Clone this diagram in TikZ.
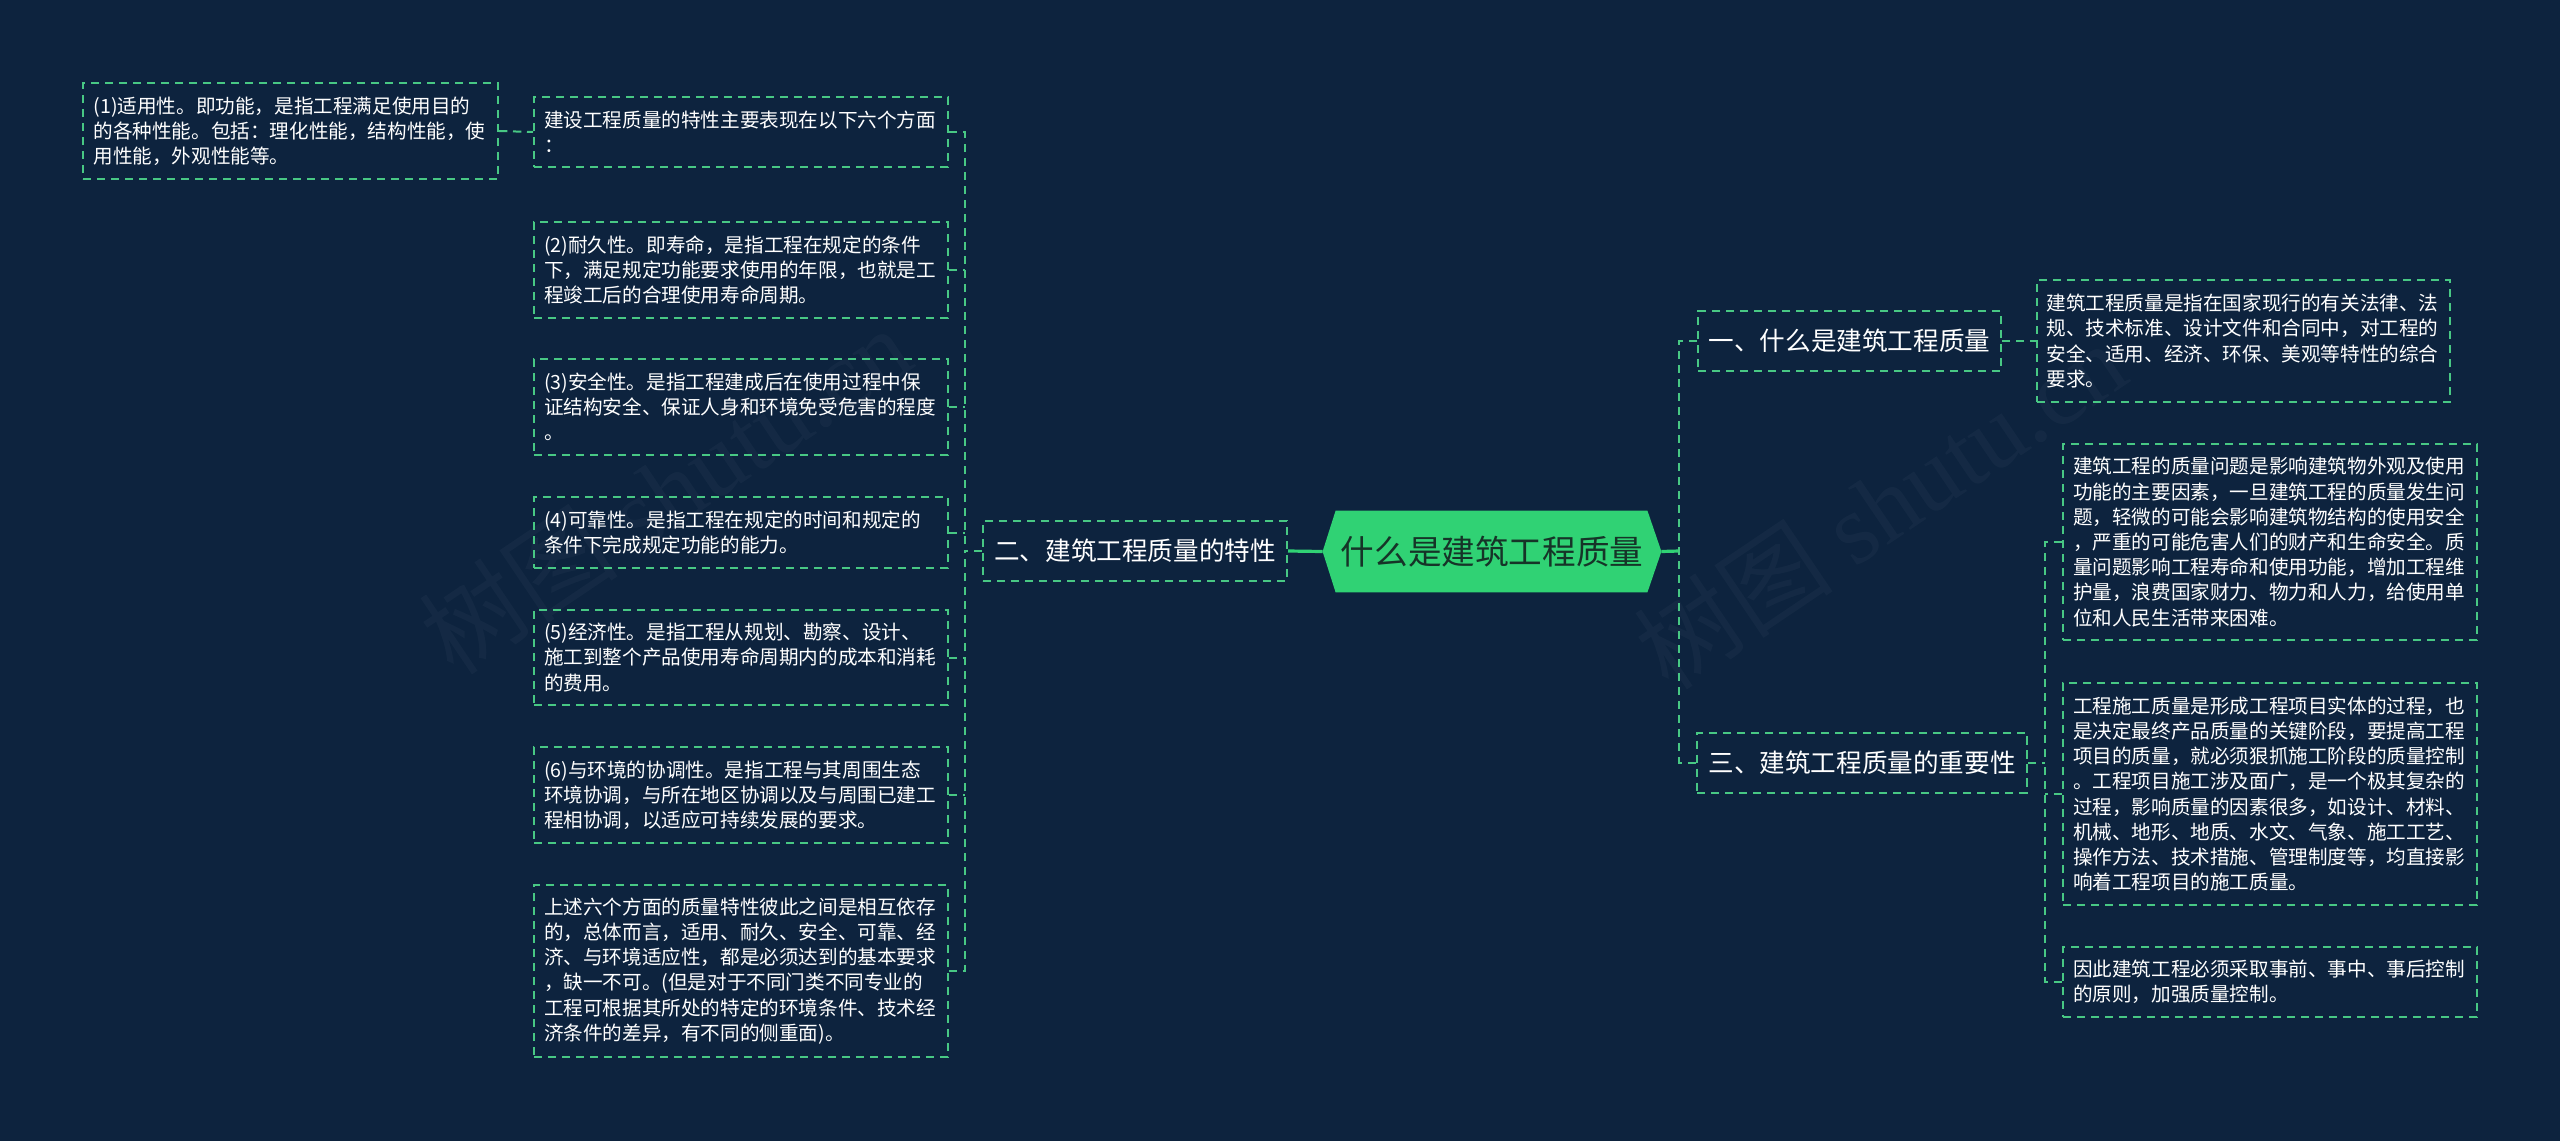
\documentclass[tikz,border=0pt]{standalone}
\usepackage{fontspec}
\setmainfont{Noto Sans CJK SC}
\newfontfamily\wmfont{Liberation Serif}
\definecolor{bgc}{RGB}{13,35,62}
\definecolor{lg}{RGB}{72,200,132}
\definecolor{hubg}{RGB}{48,210,116}
\definecolor{hubt}{RGB}{22,52,40}
\tikzset{
  dashln/.style={draw=lg, line width=1pt, dash pattern=on 4.2pt off 2.8pt},
  leaf/.style={dashln, text=white, align=left, inner sep=0pt,
    text width=197pt, minimum height=#1,
    font=\fontsize{9.8pt}{12.6pt}\selectfont},
  leafw/.style={minimum width=#1},
  branch/.style={dashln, text=white, inner sep=0pt, minimum height=30pt,
    font=\fontsize{12.8pt}{15pt}\selectfont},
  link/.style={dashln},
  solidlink/.style={draw=hubg, line width=1.6pt},
  wmark/.style={text=white, opacity=0.03, rotate=34,
    font=\fontsize{50pt}{55pt}\selectfont}
}
\begin{document}
\begin{tikzpicture}[x=0.5pt,y=-0.5pt]
\fill[bgc] (0,0) rectangle (2560,1141);
\useasboundingbox (0,0) rectangle (2560,1141);

% watermarks
\node[wmark] (w1) at (665,490) {树图 {\wmfont shutu.cn}};
\node[wmark] (w2) at (1880,505) {树图 {\wmfont shutu.cn}};

% left column
\node[leaf=48pt, leafw=207.5pt] (c1) at (290.5,131) {(1)适用性。即功能，是指工程满足使用目的\\的各种性能。包括：理化性能，结构性能，使\\用性能，外观性能等。};
\node[leaf=35pt, leafw=207pt] (b0) at (741,132) {建设工程质量的特性主要表现在以下六个方面\\：};
\node[leaf=48pt, leafw=207pt] (b2) at (741,270) {(2)耐久性。即寿命，是指工程在规定的条件\\下，满足规定功能要求使用的年限，也就是工\\程竣工后的合理使用寿命周期。};
\node[leaf=48pt, leafw=207pt] (b3) at (741,407) {(3)安全性。是指工程建成后在使用过程中保\\证结构安全、保证人身和环境免受危害的程度\\。};
\node[leaf=35.5pt, leafw=207pt] (b4) at (741,532.5) {(4)可靠性。是指工程在规定的时间和规定的\\条件下完成规定功能的能力。};
\node[leaf=47.5pt, leafw=207pt] (b5) at (741,657.5) {(5)经济性。是指工程从规划、勘察、设计、\\施工到整个产品使用寿命周期内的成本和消耗\\的费用。};
\node[leaf=48pt, leafw=207pt] (b6) at (741,795) {(6)与环境的协调性。是指工程与其周围生态\\环境协调，与所在地区协调以及与周围已建工\\程相协调，以适应可持续发展的要求。};
\node[leaf=86pt, leafw=207pt] (b7) at (741,971) {上述六个方面的质量特性彼此之间是相互依存\\的，总体而言，适用、耐久、安全、可靠、经\\济、与环境适应性，都是必须达到的基本要求\\，缺一不可。(但是对于不同门类不同专业的\\工程可根据其所处的特定的环境条件、技术经\\济条件的差异，有不同的侧重面)。};

% second level
\node[branch, minimum width=152pt] (er) at (1135,551) {二、建筑工程质量的特性};
\node[branch, minimum width=151.5pt] (yi) at (1849.5,341) {一、什么是建筑工程质量};
\node[branch, minimum width=165pt] (san) at (1862,762.5) {三、建筑工程质量的重要性};

% hub
\node[inner sep=0pt, minimum width=169pt, minimum height=40.5pt] (hub) at (1492,551.5) {};
\fill[hubg] (hub.west) -- ([xshift=6.5pt]hub.north west) -- ([xshift=-7pt]hub.north east) -- (hub.east) -- ([xshift=-7pt]hub.south east) -- ([xshift=6.5pt]hub.south west) -- cycle;
\node[text=hubt, font=\fontsize{16.8pt}{20pt}\selectfont] (hubtext) at (hub.center) {什么是建筑工程质量};

% right leaves
\node[leaf=61pt, leafw=206.5pt] (r1) at (2243.5,341) {建筑工程质量是指在国家现行的有关法律、法\\规、技术标准、设计文件和合同中，对工程的\\安全、适用、经济、环保、美观等特性的综合\\要求。};
\node[leaf=98pt, leafw=207pt] (ra) at (2270,542) {建筑工程的质量问题是影响建筑物外观及使用\\功能的主要因素，一旦建筑工程的质量发生问\\题，轻微的可能会影响建筑物结构的使用安全\\，严重的可能危害人们的财产和生命安全。质\\量问题影响工程寿命和使用功能，增加工程维\\护量，浪费国家财力、物力和人力，给使用单\\位和人民生活带来困难。};
\node[leaf=111pt, leafw=207pt] (rb) at (2270,794) {工程施工质量是形成工程项目实体的过程，也\\是决定最终产品质量的关键阶段，要提高工程\\项目的质量，就必须狠抓施工阶段的质量控制\\。工程项目施工涉及面广，是一个极其复杂的\\过程，影响质量的因素很多，如设计、材料、\\机械、地形、地质、水文、气象、施工工艺、\\操作方法、技术措施、管理制度等，均直接影\\响着工程项目的施工质量。};
\node[leaf=35pt, leafw=207pt] (rc) at (2270,982) {因此建筑工程必须采取事前、事中、事后控制\\的原则，加强质量控制。};

% spine coordinates
\coordinate (sL) at (965,551);
\coordinate (sR) at (1679,551);
\coordinate (sR3) at (2045,762.5);

% connectors
\draw[solidlink] (er.east) -- (hub.west);
\draw[solidlink] (hub.east) -- (sR);
\draw[link] (yi.west) -| (sR) |- (san.west);
\draw[link] (yi.east) -- (r1.west);
\draw[link] (c1.east) -- (b0.west);
\draw[link] (b0.east) -| (sL);
\draw[link] (b7.east) -| (sL);
\foreach \n in {b2,b3,b4,b5,b6} { \draw[link] (\n.east) -- (\n.east -| sL); }
\draw[link] (er.west) -- (sL);
\draw[link] (san.east) -- (sR3);
\draw[link] (ra.west) -| (sR3);
\draw[link] (rc.west) -| (sR3);
\draw[link] (rb.west) -- (rb.west -| sR3);
\end{tikzpicture}
\end{document}
